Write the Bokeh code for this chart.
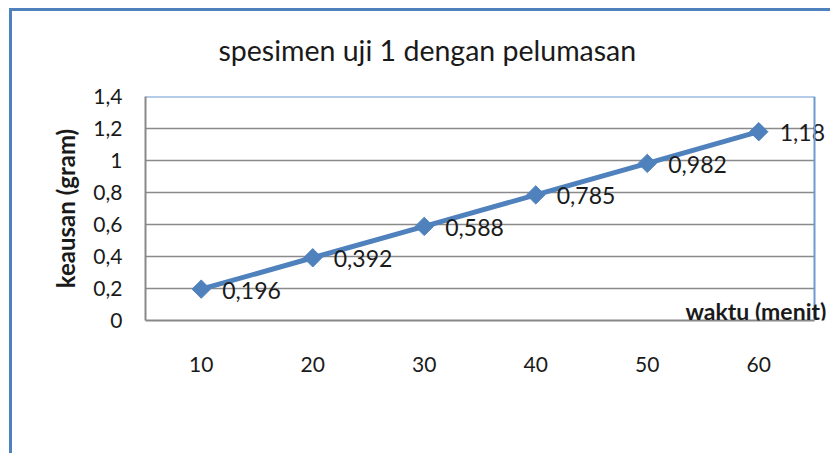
import math
from bokeh.plotting import figure
from bokeh.models import ColumnDataSource, Label, FixedTicker, CustomJSTickFormatter, Range1d, Span
from bokeh.core.properties import value
from bokeh.embed import file_html
from bokeh.resources import INLINE

# data
waktu = [10, 20, 30, 40, 50, 60]
keausan = [0.196, 0.392, 0.588, 0.785, 0.982, 1.18]
label_text = ["0,196", "0,392", "0,588", "0,785", "0,982", "1,18"]
y_ticks = [0, 0.2, 0.4, 0.6, 0.8, 1.0, 1.2, 1.4]

title_text = "spesimen uji 1 dengan pelumasan"
y_title = "keausan (gram)"
x_title = "waktu (menit)"

FONT = "Lato"
BLUE = "#4F81BD"
TXT = "#1a1a1a"

# plot-area extent (category axis: half a step either side)
X_MIN, X_MAX = 5, 65
Y_MIN, Y_MAX = 0, 1.4
W, H = 830, 453
LEFT, TOP, BOTTOM = 145, 96, 133
AREA_W = 669  # plot-area width in px
x_end = X_MIN + (W - LEFT) * (X_MAX - X_MIN) / AREA_W

p = figure(width=W, height=H, output_backend="svg", toolbar_location=None,
           x_range=Range1d(X_MIN, x_end), y_range=Range1d(Y_MIN, Y_MAX),
           min_border_left=LEFT, min_border_right=0, min_border_top=TOP,
           min_border_bottom=BOTTOM)
p.styles = {"box-shadow": "inset 9px 8px 0 0 white, inset 12px 11px 0 0 #4F81BD"}

p.outline_line_color = None
p.background_fill_color = None
p.border_fill_color = None

# title
p.title.text = title_text
p.title.align = "left"
p.title.offset = 73
p.title.standoff = 58
p.title.vertical_align = "middle"
p.title.text_font = FONT
p.title.text_font_size = "28.5px"
p.title.text_font_style = "normal"
p.title.text_color = TXT

# gridlines (inside the plot area only) and plot-area border
inner = [t for t in y_ticks if Y_MIN < t < Y_MAX]
p.segment(x0=[X_MIN] * len(inner), y0=inner, x1=[X_MAX] * len(inner), y1=inner,
          line_color="#8a8a8a", line_width=1.3)
p.segment(x0=[X_MIN], y0=[Y_MAX], x1=[X_MAX], y1=[Y_MAX], line_color="#6D9AD2", line_width=2)
p.add_layout(Span(location=X_MAX, dimension="height", line_color="#6D9AD2", line_width=2))

src = ColumnDataSource(dict(x=waktu, y=keausan, t=label_text))
p.line("x", "y", source=src, line_color=BLUE, line_width=5)
p.scatter("x", "y", source=src, marker="square", angle=math.pi / 4, size=13,
          fill_color=BLUE, line_color=BLUE)
p.text("x", "y", text="t", source=src, x_offset=21, y_offset=1, text_baseline="middle",
       text_align="left", text_font=value(FONT), text_font_size="23px", text_color=TXT)

# axes
p.xaxis.ticker = FixedTicker(ticks=waktu)
p.xaxis.bounds = (X_MIN, X_MAX)
p.yaxis.ticker = FixedTicker(ticks=y_ticks)
p.yaxis.formatter = CustomJSTickFormatter(code="""
const s = tick.toFixed(1).replace('.', ',');
return s.endsWith(',0') ? s.slice(0, -2) : s;
""")
for ax in (p.xaxis[0], p.yaxis[0]):
    ax.axis_line_color = "#888888"
    ax.axis_line_width = 2
    ax.major_tick_line_color = None
    ax.minor_tick_line_color = None
    ax.major_label_text_font = FONT
    ax.major_label_text_font_size = "21px"
    ax.major_label_text_color = TXT
p.xaxis.major_label_standoff = 30
p.yaxis.major_label_standoff = 17

p.yaxis.axis_label = y_title
p.yaxis.axis_label_text_font = FONT
p.yaxis.axis_label_text_font_size = "24px"
p.yaxis.axis_label_text_font_style = "bold"
p.yaxis.axis_label_text_color = TXT
p.yaxis.axis_label_standoff = 10

p.xgrid.grid_line_color = None
p.ygrid.grid_line_color = None

p.add_layout(Label(x=540, y=-4, x_units="screen", y_units="screen", text=x_title,
                   text_align="left", text_baseline="bottom",
                   text_font=FONT, text_font_size="23px", text_font_style="bold",
                   text_color=TXT))

open("out.html", "w").write(file_html(p, INLINE))
